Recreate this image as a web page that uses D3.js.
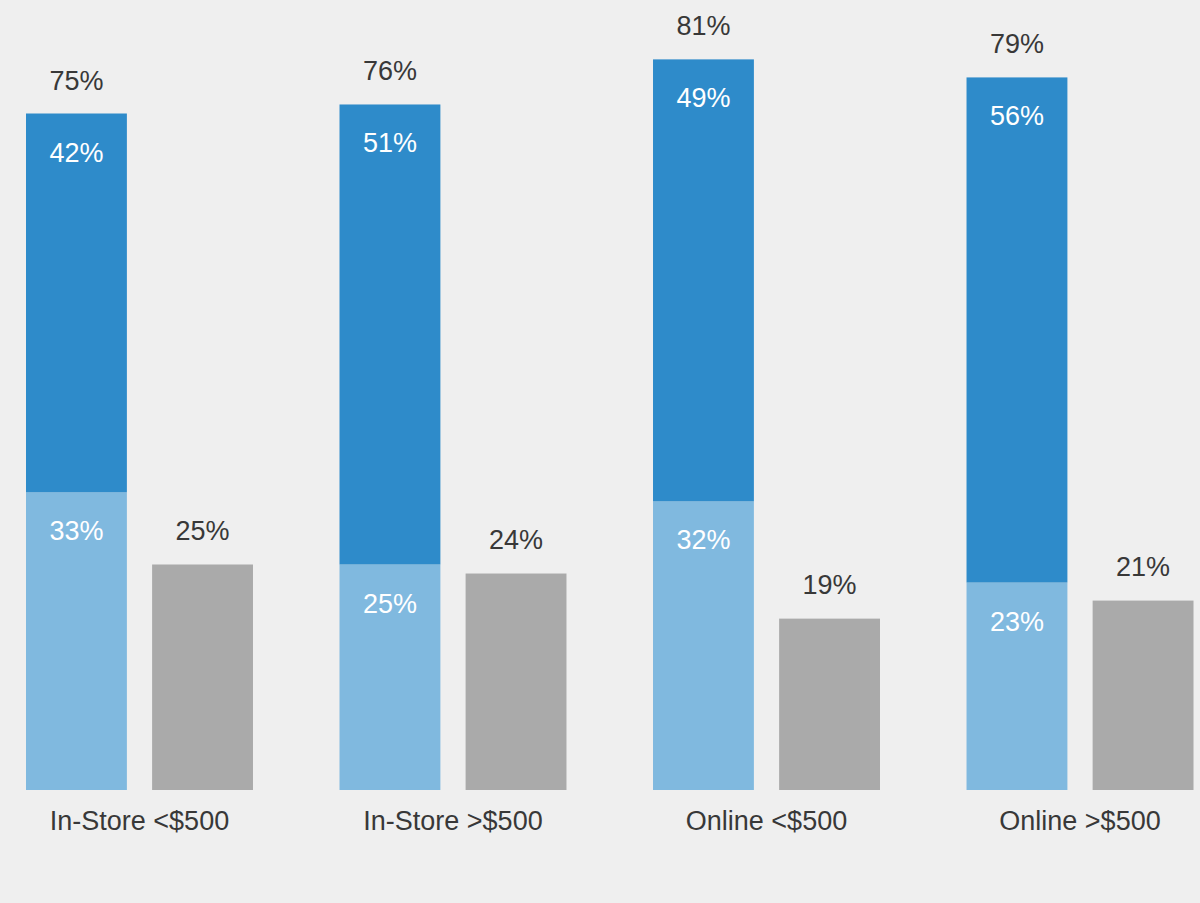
<!DOCTYPE html>
<html>
<head>
<meta charset="utf-8">
<script src="https://cdn.jsdelivr.net/npm/d3@7"></script>
<style>
  body { margin: 0; background: #efefef; }
  svg { display: block; }
</style>
</head>
<body>
<svg id="chart" width="1200" height="903"></svg>
<script>
// values
const categories = ["In-Store <$500", "In-Store >$500", "Online <$500", "Online >$500"]
const lower_values = [33, 25, 32, 23]   // light blue part
const upper_values = [42, 51, 49, 56]   // dark blue part
const total_values = [75, 76, 81, 79]
const other_values = [25, 24, 19, 21]   // gray bar

const dark_color = "#2e8bca"
const light_color = "#80b9df"
const gray_color = "#aaaaaa"
const text_color = "#383838"
const font = "'Liberation Sans', Arial, sans-serif"

const svg = d3.select("#chart")
const width = 1200
const height = 903

svg.append("rect")
    .attr("width", width)
    .attr("height", height)
    .attr("fill", "#efefef")

const baseline = 790
const y = d3.scaleLinear().domain([0, 100]).range([baseline, baseline - 902])

const x0 = d3.scaleBand()
    .domain(categories)
    .range([26, 1193.5])
    .paddingInner(0.276)
    .paddingOuter(0)

const x1 = d3.scaleBand()
    .domain(["stack", "other"])
    .range([0, x0.bandwidth()])
    .paddingInner(0.2)
    .paddingOuter(0)

const data = categories.map((c, i) => ({
    category: c,
    lower: lower_values[i],
    upper: upper_values[i],
    total: total_values[i],
    other: other_values[i]
}))

const groups = svg.append("g")
    .selectAll("g")
    .data(data)
    .join("g")
    .attr("transform", d => `translate(${x0(d.category)},0)`)

// light blue lower part
groups.append("rect")
    .attr("x", x1("stack"))
    .attr("width", x1.bandwidth())
    .attr("y", d => y(d.lower))
    .attr("height", d => y(0) - y(d.lower))
    .attr("fill", light_color)

// dark blue upper part
groups.append("rect")
    .attr("x", x1("stack"))
    .attr("width", x1.bandwidth())
    .attr("y", d => y(d.lower + d.upper))
    .attr("height", d => y(d.lower) - y(d.lower + d.upper))
    .attr("fill", dark_color)

// gray bar
groups.append("rect")
    .attr("x", x1("other"))
    .attr("width", x1.bandwidth())
    .attr("y", d => y(d.other))
    .attr("height", d => y(0) - y(d.other))
    .attr("fill", gray_color)

const fmt = v => v + "%"

function label(sel, xpos, ypos, txt, fill) {
    sel.append("text")
        .attr("x", xpos)
        .attr("y", ypos)
        .text(txt)
        .attr("font-family", font)
        .attr("font-size", "27px")
        .attr("text-anchor", "middle")
        .attr("fill", fill)
}

const cx_stack = x1("stack") + x1.bandwidth() / 2
const cx_other = x1("other") + x1.bandwidth() / 2

groups.each(function(d) {
    const g = d3.select(this)
    label(g, cx_stack, y(d.lower + d.upper) - 24, fmt(d.total), text_color)
    label(g, cx_stack, y(d.lower + d.upper) + 48, fmt(d.upper), "#ffffff")
    label(g, cx_stack, y(d.lower) + 48, fmt(d.lower), "#ffffff")
    label(g, cx_other, y(d.other) - 25, fmt(d.other), text_color)
    label(g, x0.bandwidth() / 2, 830, d.category, text_color)
})
</script>
</body>
</html>
